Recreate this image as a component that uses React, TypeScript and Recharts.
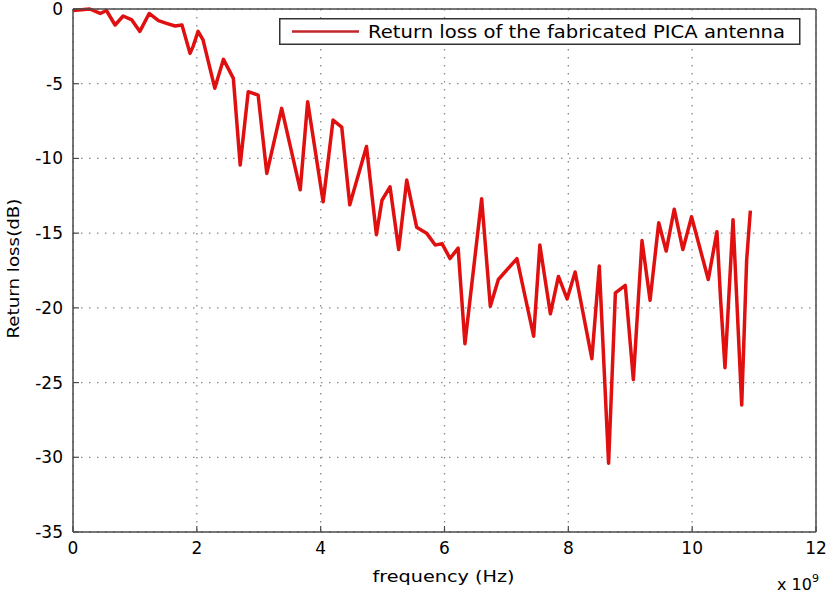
import React from "react";
import {
  LineChart,
  Line,
  XAxis,
  YAxis,
  CartesianGrid,
  Legend,
  Label,
} from "recharts";

// frequency in units of 1e9 Hz
const freqGHz = [
  0.0, 0.27, 0.44, 0.54, 0.68, 0.81, 0.95, 1.08, 1.23, 1.38, 1.51, 1.65, 1.76,
  1.89, 1.94, 2.02, 2.1, 2.29, 2.43, 2.59, 2.7, 2.83, 2.99, 3.13, 3.37, 3.67,
  3.79, 4.04, 4.2, 4.34, 4.47, 4.74, 4.9, 4.99, 5.12, 5.26, 5.39, 5.55, 5.71,
  5.85, 5.96, 6.09, 6.22, 6.33, 6.6, 6.74, 6.87, 7.17, 7.44, 7.54, 7.71, 7.84,
  7.98, 8.11, 8.38, 8.5, 8.65, 8.76, 8.92, 9.05, 9.19, 9.32, 9.46, 9.58, 9.71,
  9.85, 9.99, 10.26, 10.4, 10.46, 10.53, 10.66, 10.8, 10.88, 10.94,
];

const returnLossDb = [
  -0.1, 0.0, -0.3, -0.1, -1.07, -0.47, -0.73, -1.5, -0.3, -0.78, -0.96, -1.14,
  -1.07, -2.97, -2.5, -1.5, -2.07, -5.3, -3.37, -4.64, -10.44, -5.53, -5.76,
  -11.0, -6.65, -12.1, -6.2, -12.9, -7.43, -7.9, -13.1, -9.2, -15.1, -12.8,
  -11.9, -16.1, -11.45, -14.6, -15.0, -15.8, -15.7, -16.7, -16.0, -22.4, -12.7,
  -19.9, -18.1, -16.7, -21.9, -15.8, -20.4, -17.9, -19.4, -17.6, -23.4, -17.2,
  -30.4, -19.0, -18.5, -24.8, -15.5, -19.5, -14.3, -16.2, -13.4, -16.1, -13.9,
  -18.1, -14.9, -19.5, -24.0, -14.1, -26.5, -16.8, -13.5,
];

const xTicks = [0, 2, 4, 6, 8, 10, 12];
const yTicks = [-35, -30, -25, -20, -15, -10, -5, 0];

const seriesName = "Return loss of the fabricated PICA antenna";
const xLabelText = "frequency (Hz)";
const yLabelText = "Return loss(dB)";

const data = freqGHz.map((f, i) => ({ f, rl: returnLossDb[i] }));

const FONT = "'DejaVu Sans', 'Liberation Sans', Arial, sans-serif";
const AXIS_COLOR = "#4a4a4a";
const LINE_COLOR = "#e01010";

const renderLegend = () => (
  <svg width={522} height={27} style={{ display: "block", overflow: "visible" }}>
    <rect x={0.75} y={0.75} width={520} height={25.5} fill="#fff" stroke="#333" strokeWidth={1.5} />
    <line x1={13} y1={13.5} x2={80} y2={13.5} stroke="#c0262b" strokeWidth={2.5} />
    <text
      x={89}
      y={19.5}
      fontSize={17}
      fontFamily={FONT}
      fill="#000"
      textLength={417}
      lengthAdjust="spacingAndGlyphs"
    >
      {seriesName}
    </text>
  </svg>
);

const XLabel = (props: any) => {
  const vb = props.viewBox || {};
  const cx = vb.x + vb.width / 2 - 1;
  return (
    <g>
      <text
        x={cx}
        y={vb.y + 50}
        textAnchor="middle"
        fontSize={16}
        fontFamily={FONT}
        fill="#000"
        textLength={142}
        lengthAdjust="spacingAndGlyphs"
      >
        {xLabelText}
      </text>
      <text x={vb.x + vb.width - 39} y={vb.y + 58} fontSize={16} fontFamily={FONT} fill="#000">
        x 10
        <tspan dy={-8} fontSize={11}>
          9
        </tspan>
      </text>
    </g>
  );
};

const YLabel = (props: any) => {
  const vb = props.viewBox || {};
  const cy = vb.y + vb.height / 2 - 2;
  const lx = 19;
  return (
    <text
      x={lx}
      y={cy}
      transform={`rotate(-90, ${lx}, ${cy})`}
      textAnchor="middle"
      fontSize={15}
      fontFamily={FONT}
      fill="#000"
      textLength={140}
      lengthAdjust="spacingAndGlyphs"
    >
      {yLabelText}
    </text>
  );
};

export default function App() {
  return (
    <div style={{ position: "absolute", left: 0, top: 0, width: 826, height: 595, background: "#fff" }}>
      <LineChart
        width={826}
        height={595}
        data={data}
        margin={{ top: 8, right: 9, bottom: 13, left: 13 }}
        style={{ fontFamily: FONT }}
      >
        <CartesianGrid
          stroke="#8a8a8a"
          strokeDasharray="1.5 6.5"
          strokeWidth={1.3}
          horizontalValues={yTicks}
          verticalValues={xTicks}
        />
        <XAxis
          type="number"
          dataKey="f"
          domain={[0, 12]}
          ticks={xTicks}
          interval={0}
          height={50}
          stroke={AXIS_COLOR}
          axisLine={{ stroke: AXIS_COLOR, strokeWidth: 1.5 }}
          tickLine={{ stroke: AXIS_COLOR, strokeWidth: 1.2 }}
          tickSize={-6}
          tickMargin={16}
          tick={{ fill: "#000", fontSize: 17, fontFamily: FONT }}
        >
          <Label content={<XLabel />} />
        </XAxis>
        <XAxis
          xAxisId="top"
          orientation="top"
          type="number"
          dataKey="f"
          domain={[0, 12]}
          ticks={xTicks}
          height={1}
          axisLine={{ stroke: AXIS_COLOR, strokeWidth: 1.5 }}
          tickLine={{ stroke: AXIS_COLOR, strokeWidth: 1.2 }}
          tickSize={-6}
          tick={false}
        />
        <YAxis
          type="number"
          domain={[-35, 0]}
          ticks={yTicks}
          interval={0}
          width={60}
          axisLine={{ stroke: AXIS_COLOR, strokeWidth: 1.5 }}
          tickLine={{ stroke: AXIS_COLOR, strokeWidth: 1.2 }}
          tickSize={-6}
          tickMargin={16}
          tick={{ fill: "#000", fontSize: 17, fontFamily: FONT }}
        >
          <Label content={<YLabel />} />
        </YAxis>
        <YAxis
          yAxisId="right"
          orientation="right"
          type="number"
          domain={[-35, 0]}
          ticks={yTicks}
          width={1}
          axisLine={{ stroke: AXIS_COLOR, strokeWidth: 1.5 }}
          tickLine={{ stroke: AXIS_COLOR, strokeWidth: 1.2 }}
          tickSize={-6}
          tick={false}
        />
        <Legend
          content={renderLegend}
          wrapperStyle={{ position: "absolute", left: 279, top: 18, width: 522, height: 0, overflow: "visible" }}
        />
        <Line
          type="linear"
          dataKey="rl"
          name={seriesName}
          stroke={LINE_COLOR}
          strokeWidth={3.5}
          dot={false}
          activeDot={false}
          isAnimationActive={false}
          strokeLinejoin="round"
        />
      </LineChart>
    </div>
  );
}
